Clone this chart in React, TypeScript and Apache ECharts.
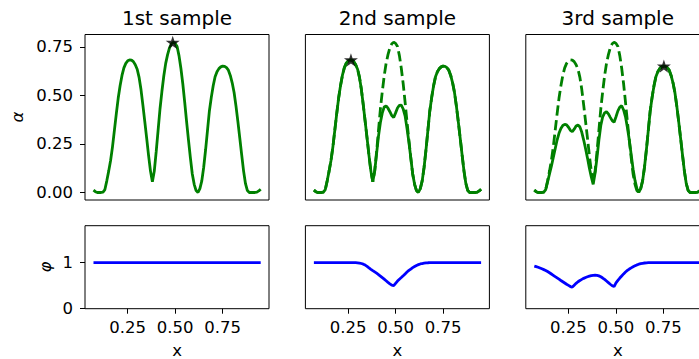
import React, { useEffect, useRef } from "react";
import * as echarts from "echarts";

// x grid of the samples
const xs = [
  0.07, 0.08, 0.09, 0.1, 0.11, 0.12, 0.13, 0.14, 0.15, 0.16, 0.17, 0.18, 0.19, 0.2, 0.21, 0.22, 0.23, 0.24, 0.25, 0.26,
  0.27, 0.28, 0.29, 0.3, 0.31, 0.32, 0.33, 0.34, 0.35, 0.36, 0.37, 0.38, 0.39, 0.4, 0.41, 0.42, 0.43, 0.44, 0.45, 0.46,
  0.47, 0.48, 0.49, 0.5, 0.51, 0.52, 0.53, 0.54, 0.55, 0.56, 0.57, 0.58, 0.59, 0.6, 0.61, 0.62, 0.63, 0.64, 0.65, 0.66,
  0.67, 0.68, 0.69, 0.7, 0.71, 0.72, 0.73, 0.74, 0.75, 0.76, 0.77, 0.78, 0.79, 0.8, 0.81, 0.82, 0.83, 0.84, 0.85, 0.86,
  0.87, 0.88, 0.89, 0.9, 0.91, 0.92, 0.93, 0.94, 0.95,
];

// alpha of the 1st sample (also the dashed reference in samples 2 and 3)
const alpha1 = [
  0.012, 0.004, 0.0, 0.0, 0.0, 0.002, 0.015, 0.06, 0.11, 0.165, 0.235, 0.32, 0.405, 0.485, 0.55, 0.603, 0.642, 0.665, 0.678, 0.683,
  0.682, 0.674, 0.658, 0.635, 0.593, 0.53, 0.45, 0.365, 0.279, 0.19, 0.11, 0.055, 0.11, 0.21, 0.32, 0.43, 0.52, 0.6, 0.665, 0.71,
  0.745, 0.766, 0.774, 0.768, 0.752, 0.705, 0.64, 0.56, 0.465, 0.365, 0.27, 0.178, 0.095, 0.042, 0.01, 0.0, 0.02, 0.06, 0.13, 0.22,
  0.32, 0.42, 0.49, 0.55, 0.596, 0.622, 0.638, 0.647, 0.651, 0.65, 0.643, 0.63, 0.603, 0.565, 0.515, 0.445, 0.365, 0.28, 0.194, 0.11,
  0.045, 0.01, 0.0, 0.0, 0.0, 0.0, 0.002, 0.008, 0.017,
];

const alpha2 = [
  0.012, 0.004, 0.0, 0.0, 0.0, 0.002, 0.015, 0.06, 0.11, 0.165, 0.235, 0.32, 0.405, 0.485, 0.55, 0.603, 0.642, 0.665, 0.678, 0.683,
  0.682, 0.674, 0.658, 0.635, 0.593, 0.53, 0.45, 0.365, 0.279, 0.19, 0.11, 0.055, 0.11, 0.2, 0.29, 0.36, 0.41, 0.44, 0.446, 0.434,
  0.416, 0.396, 0.386, 0.41, 0.435, 0.449, 0.45, 0.43, 0.395, 0.33, 0.26, 0.178, 0.095, 0.042, 0.01, 0.0, 0.02, 0.06, 0.13, 0.22,
  0.32, 0.42, 0.49, 0.55, 0.596, 0.622, 0.638, 0.647, 0.651, 0.65, 0.643, 0.63, 0.603, 0.565, 0.515, 0.445, 0.365, 0.28, 0.194, 0.11,
  0.045, 0.01, 0.0, 0.0, 0.0, 0.0, 0.002, 0.008, 0.017,
];

const alpha3 = [
  0.012, 0.004, 0.0, 0.0, 0.0, 0.002, 0.015, 0.055, 0.095, 0.135, 0.18, 0.225, 0.27, 0.305, 0.33, 0.345, 0.351, 0.348, 0.336, 0.32,
  0.313, 0.326, 0.342, 0.347, 0.338, 0.31, 0.27, 0.225, 0.177, 0.125, 0.08, 0.042, 0.1, 0.18, 0.27, 0.345, 0.39, 0.41, 0.416, 0.405,
  0.387, 0.37, 0.362, 0.39, 0.42, 0.44, 0.447, 0.425, 0.39, 0.335, 0.27, 0.195, 0.12, 0.062, 0.02, 0.0, 0.02, 0.06, 0.13, 0.22,
  0.32, 0.42, 0.49, 0.55, 0.596, 0.622, 0.638, 0.647, 0.651, 0.65, 0.643, 0.63, 0.603, 0.565, 0.515, 0.445, 0.365, 0.28, 0.194, 0.11,
  0.045, 0.01, 0.0, 0.0, 0.0, 0.0, 0.002, 0.008, 0.017,
];

const phi1 = [
  1, 1, 1, 1, 1, 1, 1, 1, 1, 1, 1, 1, 1, 1, 1, 1, 1, 1, 1, 1,
  1, 1, 1, 1, 1, 1, 1, 1, 1, 1, 1, 1, 1, 1, 1, 1, 1, 1, 1, 1,
  1, 1, 1, 1, 1, 1, 1, 1, 1, 1, 1, 1, 1, 1, 1, 1, 1, 1, 1, 1,
  1, 1, 1, 1, 1, 1, 1, 1, 1, 1, 1, 1, 1, 1, 1, 1, 1, 1, 1, 1,
  1, 1, 1, 1, 1, 1, 1, 1, 1,
];

const phi2 = [
  1, 1, 1, 1, 1, 1, 1, 1, 1, 1, 1, 1, 1, 1, 1, 1, 1, 1, 1, 1,
  1, 1, 1, 0.996, 0.99, 0.98, 0.966, 0.946, 0.918, 0.886, 0.855, 0.826, 0.798, 0.77, 0.74, 0.708, 0.674, 0.64, 0.605, 0.57,
  0.538, 0.51, 0.5, 0.55, 0.6, 0.64, 0.676, 0.715, 0.755, 0.795, 0.83, 0.86, 0.89, 0.915, 0.938, 0.955, 0.97, 0.98, 0.987, 0.992,
  0.996, 0.998, 1, 1, 1, 1, 1, 1, 1, 1, 1, 1, 1, 1, 1, 1, 1, 1, 1, 1,
  1, 1, 1, 1, 1, 1, 1, 1, 1,
];

const phi3 = [
  0.925, 0.912, 0.898, 0.882, 0.865, 0.848, 0.83, 0.806, 0.78, 0.752, 0.724, 0.695, 0.668, 0.64, 0.612, 0.585, 0.558, 0.53, 0.505, 0.48,
  0.468, 0.51, 0.55, 0.585, 0.612, 0.636, 0.658, 0.676, 0.692, 0.706, 0.717, 0.724, 0.726, 0.724, 0.712, 0.692, 0.665, 0.635, 0.6, 0.565,
  0.53, 0.498, 0.48, 0.56, 0.615, 0.665, 0.71, 0.755, 0.795, 0.83, 0.86, 0.886, 0.91, 0.93, 0.95, 0.965, 0.977, 0.985, 0.991, 0.995,
  0.998, 1, 1, 1, 1, 1, 1, 1, 1, 1, 1, 1, 1, 1, 1, 1, 1, 1, 1, 1,
  1, 1, 1, 1, 1, 1, 1, 1, 1,
];

const panelTitles = ["1st sample", "2nd sample", "3rd sample"];
const xTicks = [0.25, 0.5, 0.75];
const alphaTicks = [0, 0.25, 0.5, 0.75];
const phiTicks = [0, 1];
const starX = [0.487, 0.265, 0.752];
const starY = [0.773, 0.683, 0.651];

const FONT = "DejaVu Sans";
const GREEN = "#008000";
const BLUE = "#0000ff";
const PANEL_LEFT = [85, 305.4, 525.8];
const PANEL_W = 184;
const TOP_Y = 34.5;
const TOP_H = 165.5;
const BOT_Y = 225.7;
const BOT_H = 83;
const X_MIN = 0.0253;
const X_MAX = 0.9937;
const STAR =
  "path://M0,-1 L0.2245,-0.309 L0.951,-0.309 L0.363,0.118 L0.588,0.809 L0,0.382 L-0.588,0.809 L-0.363,0.118 L-0.951,-0.309 L-0.2245,-0.309 Z";

const pair = (x: number[], y: number[]) => x.map((v, i) => [v, y[i]]);

export default function App() {
  const ref = useRef<HTMLDivElement>(null);
  useEffect(() => {
    if (!ref.current) return;
    const chart = echarts.init(ref.current, undefined, { renderer: "svg" });

    const grids: any[] = [];
    const xAxes: any[] = [];
    const yAxes: any[] = [];
    for (let row = 0; row < 2; row++) {
      for (let c = 0; c < 3; c++) {
        grids.push({
          left: PANEL_LEFT[c],
          top: row === 0 ? TOP_Y : BOT_Y,
          width: PANEL_W,
          height: row === 0 ? TOP_H : BOT_H,
          show: true,
          borderColor: "#000",
          borderWidth: 1,
          backgroundColor: "transparent",
          containLabel: false,
          outerBoundsMode: "none",
        });
        const gi = row * 3 + c;
        const showX = row === 1;
        xAxes.push({
          type: "value",
          gridIndex: gi,
          min: X_MIN,
          max: X_MAX,
          axisLine: { show: false },
          splitLine: { show: false },
          axisTick: {
            show: showX,
            inside: false,
            length: 5,
            lineStyle: { color: "#000", width: 1 },
            customValues: xTicks,
          },
          axisLabel: {
            show: showX,
            customValues: xTicks,
            formatter: (v: number) => v.toFixed(2),
            color: "#000",
            fontSize: 16.5,
            fontFamily: FONT,
            margin: 10,
          },
        });
        const showY = c === 0;
        const ticks = row === 0 ? alphaTicks : phiTicks;
        yAxes.push({
          type: "value",
          gridIndex: gi,
          min: row === 0 ? -0.03875 : 0,
          max: row === 0 ? 0.81375 : 1.8,
          axisLine: { show: false },
          splitLine: { show: false },
          axisTick: {
            show: showY,
            inside: false,
            length: 5,
            lineStyle: { color: "#000", width: 1 },
            customValues: ticks,
          },
          axisLabel: {
            show: showY,
            customValues: ticks,
            formatter: (v: number) => (row === 0 ? v.toFixed(2) : String(Math.round(v))),
            color: "#000",
            fontSize: 16.5,
            fontFamily: FONT,
            margin: 12,
          },
        });
      }
    }

    const solid = (gi: number, y: number[], color: string) => ({
      type: "line",
      xAxisIndex: gi,
      yAxisIndex: gi,
      data: pair(xs, y),
      showSymbol: false,
      symbol: "none",
      lineStyle: { color, width: 2.8 },
      z: 3,
    });
    const dashed = (gi: number, y: number[]) => ({
      type: "line",
      xAxisIndex: gi,
      yAxisIndex: gi,
      data: pair(xs, y),
      showSymbol: false,
      symbol: "none",
      lineStyle: { color: GREEN, width: 2.8, type: [10.3, 4.4] },
      z: 2,
    });
    const star = (gi: number, k: number) => ({
      type: "scatter",
      xAxisIndex: gi,
      yAxisIndex: gi,
      data: [[starX[k], starY[k]]],
      symbol: STAR,
      symbolSize: [14, 13.3],
      itemStyle: { color: "#000" },
      z: 5,
    });

    const series: any[] = [
      solid(0, alpha1, GREEN),
      star(0, 0),
      dashed(1, alpha1),
      solid(1, alpha2, GREEN),
      star(1, 1),
      dashed(2, alpha1),
      solid(2, alpha3, GREEN),
      star(2, 2),
      solid(3, phi1, BLUE),
      solid(4, phi2, BLUE),
      solid(5, phi3, BLUE),
    ];

    const graphic: any[] = [];
    for (let c = 0; c < 3; c++) {
      const cx = PANEL_LEFT[c] + PANEL_W / 2;
      graphic.push({
        type: "text",
        x: cx,
        y: 18,
        style: { text: panelTitles[c], fill: "#000", fontSize: 20, fontFamily: FONT, align: "center", verticalAlign: "middle" },
      });
      graphic.push({
        type: "text",
        x: cx,
        y: 350.3,
        style: { text: "x", fill: "#000", fontSize: 16.5, fontFamily: FONT, align: "center", verticalAlign: "middle" },
      });
    }
    graphic.push({
      type: "text",
      x: 17,
      y: 117,
      rotation: Math.PI / 2,
      style: { text: "α", fill: "#000", fontSize: 16.5, fontFamily: FONT, fontStyle: "italic", align: "center", verticalAlign: "middle" },
    });
    graphic.push({
      type: "text",
      x: 45,
      y: 267,
      rotation: Math.PI / 2,
      style: { text: "φ", fill: "#000", fontSize: 16.5, fontFamily: FONT, fontStyle: "italic", align: "center", verticalAlign: "middle" },
    });

    chart.setOption({
      animation: false,
      backgroundColor: "#fff",
      grid: grids,
      xAxis: xAxes,
      yAxis: yAxes,
      series,
      graphic,
    });
    return () => chart.dispose();
  }, []);
  return <div ref={ref} style={{ position: "absolute", left: 0, top: 0, width: 699, height: 359 }} />;
}
